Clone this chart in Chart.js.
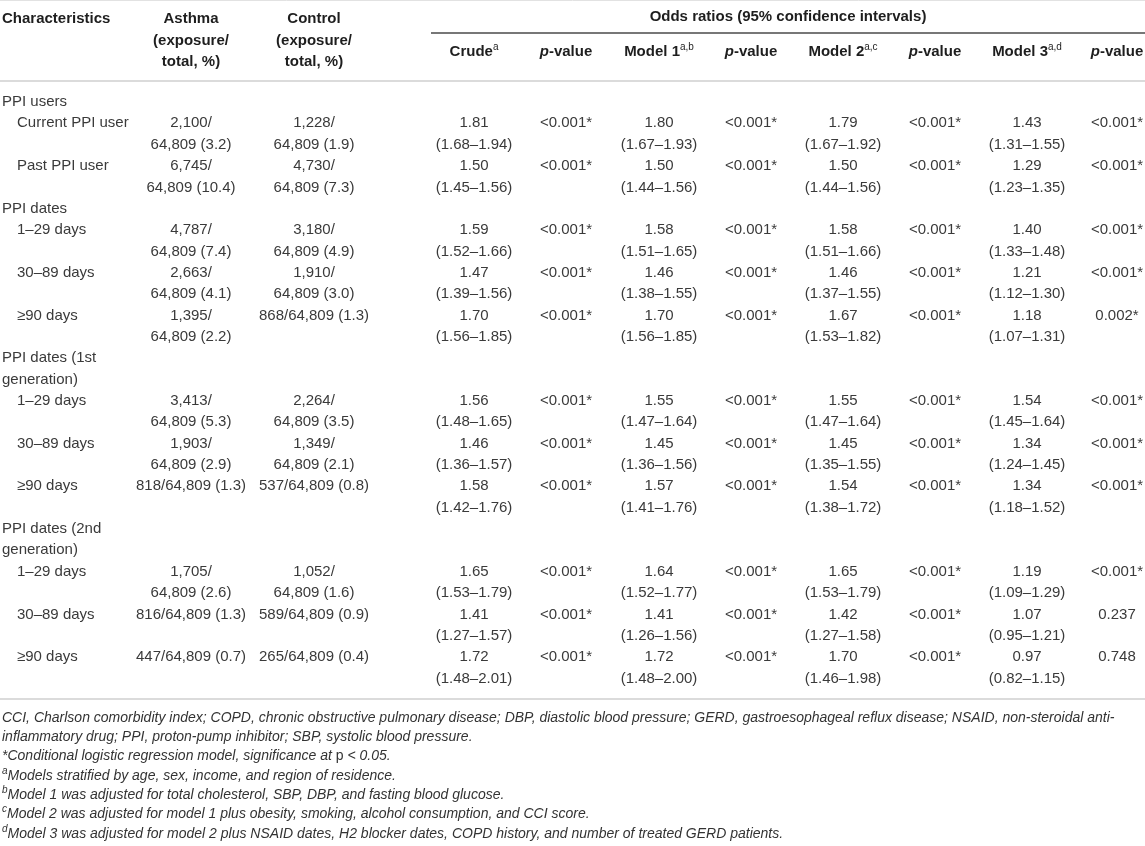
<!DOCTYPE html>
<html>
<head>
<meta charset="utf-8">
<title>PPI use and asthma - odds ratios</title>
<script src="https://cdn.jsdelivr.net/npm/chart.js@4.4.0/dist/chart.umd.min.js"></script>
<style>
    html, body { margin: 0; padding: 0; background: #ffffff; }
    #table { display: block; }
</style>
</head>
<body>
<canvas id="table" width="1145" height="846"></canvas>
<script>
// Row groups and labels
const groupLabels = [['PPI users'], ['PPI dates'], ['PPI dates (1st', 'generation)'], ['PPI dates (2nd', 'generation)']];
const rowGroups = [0, 0, 1, 1, 1, 2, 2, 2, 3, 3, 3];
const rowLabels = ['Current PPI user', 'Past PPI user', '1–29 days', '30–89 days', '≥90 days',
    '1–29 days', '30–89 days', '≥90 days', '1–29 days', '30–89 days', '≥90 days'];

// Exposure counts
const totalN = 64809;
const asthmaN = [2100, 6745, 4787, 2663, 1395, 3413, 1903, 818, 1705, 816, 447];
const asthmaPct = [3.2, 10.4, 7.4, 4.1, 2.2, 5.3, 2.9, 1.3, 2.6, 1.3, 0.7];
const controlN = [1228, 4730, 3180, 1910, 868, 2264, 1349, 537, 1052, 589, 265];
const controlPct = [1.9, 7.3, 4.9, 3.0, 1.3, 3.5, 2.1, 0.8, 1.6, 0.9, 0.4];

// Odds ratios (95% CI) and p-values
const crudeOR = [1.81, 1.50, 1.59, 1.47, 1.70, 1.56, 1.46, 1.58, 1.65, 1.41, 1.72];
const crudeLo = [1.68, 1.45, 1.52, 1.39, 1.56, 1.48, 1.36, 1.42, 1.53, 1.27, 1.48];
const crudeHi = [1.94, 1.56, 1.66, 1.56, 1.85, 1.65, 1.57, 1.76, 1.79, 1.57, 2.01];
const crudeP = ['<0.001*', '<0.001*', '<0.001*', '<0.001*', '<0.001*', '<0.001*', '<0.001*', '<0.001*', '<0.001*', '<0.001*', '<0.001*'];

const model1OR = [1.80, 1.50, 1.58, 1.46, 1.70, 1.55, 1.45, 1.57, 1.64, 1.41, 1.72];
const model1Lo = [1.67, 1.44, 1.51, 1.38, 1.56, 1.47, 1.36, 1.41, 1.52, 1.26, 1.48];
const model1Hi = [1.93, 1.56, 1.65, 1.55, 1.85, 1.64, 1.56, 1.76, 1.77, 1.56, 2.00];
const model1P = ['<0.001*', '<0.001*', '<0.001*', '<0.001*', '<0.001*', '<0.001*', '<0.001*', '<0.001*', '<0.001*', '<0.001*', '<0.001*'];

const model2OR = [1.79, 1.50, 1.58, 1.46, 1.67, 1.55, 1.45, 1.54, 1.65, 1.42, 1.70];
const model2Lo = [1.67, 1.44, 1.51, 1.37, 1.53, 1.47, 1.35, 1.38, 1.53, 1.27, 1.46];
const model2Hi = [1.92, 1.56, 1.66, 1.55, 1.82, 1.64, 1.55, 1.72, 1.79, 1.58, 1.98];
const model2P = ['<0.001*', '<0.001*', '<0.001*', '<0.001*', '<0.001*', '<0.001*', '<0.001*', '<0.001*', '<0.001*', '<0.001*', '<0.001*'];

const model3OR = [1.43, 1.29, 1.40, 1.21, 1.18, 1.54, 1.34, 1.34, 1.19, 1.07, 0.97];
const model3Lo = [1.31, 1.23, 1.33, 1.12, 1.07, 1.45, 1.24, 1.18, 1.09, 0.95, 0.82];
const model3Hi = [1.55, 1.35, 1.48, 1.30, 1.31, 1.64, 1.45, 1.52, 1.29, 1.21, 1.15];
const model3P = ['<0.001*', '<0.001*', '<0.001*', '<0.001*', '0.002*', '<0.001*', '<0.001*', '<0.001*', '<0.001*', '0.237', '0.748'];

// Column headers
const modelNames = ['Crude', 'Model 1', 'Model 2', 'Model 3'];
const modelSups = ['a', 'a,b', 'a,c', 'a,d'];

// Footnotes: [superscript, text]
const footnotes = [
    ['', 'CCI, Charlson comorbidity index; COPD, chronic obstructive pulmonary disease; DBP, diastolic blood pressure; GERD, gastroesophageal reflux disease; NSAID, non-steroidal anti-'],
    ['', 'inflammatory drug; PPI, proton-pump inhibitor; SBP, systolic blood pressure.'],
    ['', '*Conditional logistic regression model, significance at |p| < 0.05.'],
    ['a', 'Models stratified by age, sex, income, and region of residence.'],
    ['b', 'Model 1 was adjusted for total cholesterol, SBP, DBP, and fasting blood glucose.'],
    ['c', 'Model 2 was adjusted for model 1 plus obesity, smoking, alcohol consumption, and CCI score.'],
    ['d', 'Model 3 was adjusted for model 2 plus NSAID dates, H2 blocker dates, COPD history, and number of treated GERD patients.']
];

// Layout (canvas units)
const W = 1145, H = 846;
const FAMILY = '"Liberation Sans", Arial, Helvetica, sans-serif';
const layout = {
    xLabel: 2, xIndent: 17,
    colAsthma: 191, colControl: 314,
    orCols: [474, 659, 843, 1027],
    pCols: [566, 751, 935, 1117],
    oddsLeft: 431, oddsCenter: 788,
    headY: [19, 40.5, 62], subHeadY: 52,
    ruleTop: 0.5, ruleOdds: 33, ruleHead: 81, ruleBottom: 699,
    bodyTop: 102, lineH: 21.35,
    footTop: 718, footLH: 19.3
};
const fonts = {
    head: 'bold 15px ' + FAMILY,
    headItalic: 'italic bold 15px ' + FAMILY,
    sup: '10px ' + FAMILY,
    body: '15px ' + FAMILY,
    foot: 'italic 14px ' + FAMILY,
    footUp: '14px ' + FAMILY,
    footSup: 'italic 10px ' + FAMILY
};
const colors = { head: '#1e1e1e', body: '#3a3a3a', foot: '#333333', ruleLight: '#cfcfcf', ruleDark: '#4a4a4a' };

function fmtCount(n, pct) {
    return n.toLocaleString('en-US') + '/' + totalN.toLocaleString('en-US') + ' (' + pct.toFixed(1) + ')';
}

function fmtCI(lo, hi) {
    return '(' + lo.toFixed(2) + '–' + hi.toFixed(2) + ')';
}

// draws a list of text runs as one line, aligned around x
function drawRuns(ctx, runs, x, y, align, color) {
    let total = 0;
    runs.forEach(r => { ctx.font = r.font; r.w = ctx.measureText(r.text).width; total += r.w; });
    let cx = align === 'center' ? x - total / 2 : (align === 'right' ? x - total : x);
    ctx.fillStyle = color;
    ctx.textAlign = 'left';
    ctx.textBaseline = 'middle';
    runs.forEach(r => {
        ctx.font = r.font;
        ctx.fillText(r.text, cx, y + (r.dy || 0));
        cx += r.w;
    });
}

function hRule(ctx, x0, x1, y, color, width) {
    ctx.save();
    ctx.strokeStyle = color;
    ctx.lineWidth = width;
    ctx.beginPath();
    ctx.moveTo(x0, y);
    ctx.lineTo(x1, y);
    ctx.stroke();
    ctx.restore();
}

const tablePlugin = {
    id: 'tableText',
    afterDraw(chart) {
        const ctx = chart.ctx;
        const sx = chart.scales.x, sy = chart.scales.y;
        const px = v => sx.getPixelForValue(v);
        const py = v => sy.getPixelForValue(v);
        const L = layout;

        ctx.save();
        // rules
        hRule(ctx, px(0), px(W), py(L.ruleTop), '#e2e2e2', 1);
        hRule(ctx, px(L.oddsLeft), px(W), py(L.ruleOdds), colors.ruleDark, 1.5);
        hRule(ctx, px(0), px(W), py(L.ruleHead), colors.ruleLight, 1.5);
        hRule(ctx, px(0), px(W), py(L.ruleBottom), colors.ruleLight, 1.5);

        // header
        drawRuns(ctx, [{ text: 'Characteristics', font: fonts.head }], px(L.xLabel), py(L.headY[0]), 'left', colors.head);
        ['Asthma', '(exposure/', 'total, %)'].forEach((t, i) =>
            drawRuns(ctx, [{ text: t, font: fonts.head }], px(L.colAsthma), py(L.headY[i]), 'center', colors.head));
        ['Control', '(exposure/', 'total, %)'].forEach((t, i) =>
            drawRuns(ctx, [{ text: t, font: fonts.head }], px(L.colControl), py(L.headY[i]), 'center', colors.head));
        drawRuns(ctx, [{ text: 'Odds ratios (95% confidence intervals)', font: fonts.head }],
            px(L.oddsCenter), py(L.headY[0] - 2), 'center', colors.head);
        modelNames.forEach((name, m) => {
            drawRuns(ctx, [{ text: name, font: fonts.head }, { text: modelSups[m], font: fonts.sup, dy: -5 }],
                px(L.orCols[m]), py(L.subHeadY), 'center', colors.head);
            drawRuns(ctx, [{ text: 'p', font: fonts.headItalic }, { text: '-value', font: fonts.head }],
                px(L.pCols[m]), py(L.subHeadY), 'center', colors.head);
        });

        // body
        const ors = [crudeOR, model1OR, model2OR, model3OR];
        const los = [crudeLo, model1Lo, model2Lo, model3Lo];
        const his = [crudeHi, model1Hi, model2Hi, model3Hi];
        const ps = [crudeP, model1P, model2P, model3P];
        const lineY = k => py(L.bodyTop + k * L.lineH);
        const body = (t, x, k, align) => drawRuns(ctx, [{ text: t, font: fonts.body }], x, lineY(k), align, colors.body);

        ctx.font = fonts.body;
        const cellMax = ctx.measureText('868/64,809 (1.3)').width + 2;
        const countCell = (str, x, k) => {
            if (ctx.measureText(str).width > cellMax) {
                const cut = str.indexOf('/') + 1;
                body(str.slice(0, cut), x, k, 'center');
                body(str.slice(cut), x, k + 1, 'center');
            } else {
                body(str, x, k, 'center');
            }
        };

        let k = 0;
        let prevGroup = -1;
        rowLabels.forEach((label, i) => {
            if (rowGroups[i] !== prevGroup) {
                prevGroup = rowGroups[i];
                groupLabels[prevGroup].forEach(g => { body(g, px(L.xLabel), k, 'left'); k++; });
            }
            body(label, px(L.xIndent), k, 'left');
            ctx.font = fonts.body;
            countCell(fmtCount(asthmaN[i], asthmaPct[i]), px(L.colAsthma), k);
            ctx.font = fonts.body;
            countCell(fmtCount(controlN[i], controlPct[i]), px(L.colControl), k);
            for (let m = 0; m < 4; m++) {
                body(ors[m][i].toFixed(2), px(L.orCols[m]), k, 'center');
                body(fmtCI(los[m][i], his[m][i]), px(L.orCols[m]), k + 1, 'center');
                body(ps[m][i], px(L.pCols[m]), k, 'center');
            }
            k += 2;
        });

        // footnotes
        footnotes.forEach(([sup, text], j) => {
            const runs = [];
            if (sup) runs.push({ text: sup, font: fonts.footSup, dy: -5 });
            text.split('|').forEach((part, n) => {
                if (part) runs.push({ text: part, font: n % 2 ? fonts.footUp : fonts.foot });
            });
            drawRuns(ctx, runs, px(L.xLabel), py(L.footTop + j * L.footLH), 'left', colors.foot);
        });
        ctx.restore();
    }
};

const chart = new Chart(document.getElementById('table'), {
    type: 'scatter',
    data: { datasets: [] },
    options: {
        responsive: false,
        animation: false,
        devicePixelRatio: 1,
        layout: { padding: 0 },
        scales: {
            x: { type: 'linear', min: 0, max: W, display: false },
            y: { type: 'linear', min: 0, max: H, reverse: true, display: false }
        },
        plugins: {
            legend: { display: false },
            tooltip: { enabled: false }
        }
    },
    plugins: [tablePlugin]
});
</script>
</body>
</html>
